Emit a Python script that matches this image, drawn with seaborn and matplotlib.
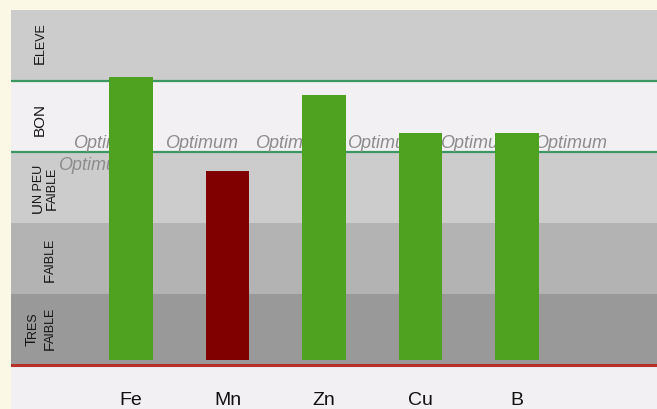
import matplotlib
matplotlib.use("Agg")
import matplotlib.pyplot as plt
import matplotlib.transforms as mtransforms
import seaborn as sns
import pandas as pd
import numpy as np

# Données
elements = ["Fe", "Mn", "Zn", "Cu", "B"]
niveaux = [4.06, 2.73, 3.80, 3.27, 3.27]
couleurs_barres = ["#4ea21f", "#800000", "#4ea21f", "#4ea21f", "#4ea21f"]
base_barres = 0.07

# Classes (du bas vers le haut), en petites capitales : (lettre, reste)
classes = [
    [("T", "RES"), ("F", "AIBLE")],
    [("F", "AIBLE")],
    [("U", "N PEU"), ("F", "AIBLE")],
    [("BON", "")],
    [("E", "LEVE")],
]
couleurs_classes = ["#999999", "#b3b3b3", "#cccccc", "#f2f0f2", "#cccccc"]
texte_optimum = "Optimum"

# Mise en page
x_optimum = [-0.60, 0.35, 1.285, 2.24, 3.20, 4.18]
y_optimum = 3.06
x_optimum_bas, y_optimum_bas = -0.756, 2.75
x_labels_px = [[36, 54], [54], [42, 56], [44], [44]]
y_labels = [0.52, 1.48, 2.49, 3.46, 4.535]

sns.set_theme(style="white")
plt.rcParams["font.family"] = ["Liberation Sans", "DejaVu Sans"]

fig = plt.figure(figsize=(6.57, 4.09), dpi=100, facecolor="#fbf9e6")
ax = fig.add_axes([11 / 657, 0, 646 / 657, 399 / 409])
ax.set_facecolor("#f2f0f2")

# Bandes
for i, c in enumerate(couleurs_classes):
    ax.axhspan(i, i + 1, color=c, lw=0, zorder=0)
ax.axhline(3, color="#3d9763", lw=1.6, zorder=1)
ax.axhline(4, color="#3d9763", lw=1.6, zorder=1)
ax.axhline(0, color="#b8302a", lw=2.2, zorder=1)

# Barres
df = pd.DataFrame({"element": elements, "hauteur": np.array(niveaux) - base_barres})
sns.barplot(data=df, x="element", y="hauteur", hue="element", palette=couleurs_barres,
            legend=False, width=0.45, saturation=1, bottom=base_barres, linewidth=0,
            ax=ax, zorder=3)

# Textes "Optimum"
for x in x_optimum:
    ax.text(x, y_optimum, texte_optimum, fontsize=13, style="italic", color="#8c8c8c",
            va="baseline", ha="left", zorder=2)
ax.text(x_optimum_bas, y_optimum_bas, texte_optimum, fontsize=13, style="italic",
        color="#8c8c8c", va="baseline", ha="left", zorder=2)

ax.set_xlim(-1.244, 5.45)
ax.set_ylim(-0.62, 5.0)
ax.set_xlabel("")
ax.set_ylabel("")
ax.set_yticks([])
ax.tick_params(axis="x", length=0, pad=-12, labelsize=14, labelcolor="#111111")
for s in ax.spines.values():
    s.set_visible(False)

# Libellés des classes en petites capitales
fig.canvas.draw()
renderer = fig.canvas.get_renderer()
trans = mtransforms.blended_transform_factory(ax.transAxes, ax.transData)
for lignes, xs, yc in zip(classes, x_labels_px, y_labels):
    for (grand, petit), xpx in zip(lignes, xs):
        xa = (xpx - 11) / 646
        t1 = ax.text(xa, yc, grand, fontsize=11, rotation=90, rotation_mode="anchor",
                     ha="right", va="baseline", color="#151515", transform=trans)
        t2 = ax.text(xa, yc, petit, fontsize=9, rotation=90, rotation_mode="anchor",
                     ha="left", va="baseline", color="#151515", transform=trans)
        l1 = t1.get_window_extent(renderer).height
        l2 = t2.get_window_extent(renderer).height if petit else 0
        yc_disp = ax.transData.transform((0, yc))[1]
        p = yc_disp - (l1 + l2) / 2 + l1
        yp = ax.transData.inverted().transform((0, p))[1]
        yp2 = ax.transData.inverted().transform((0, p - 1.5))[1]
        t1.set_position((xa, yp))
        t2.set_position((xa, yp2))

fig.savefig("out.png", dpi=100, facecolor=fig.get_facecolor())
